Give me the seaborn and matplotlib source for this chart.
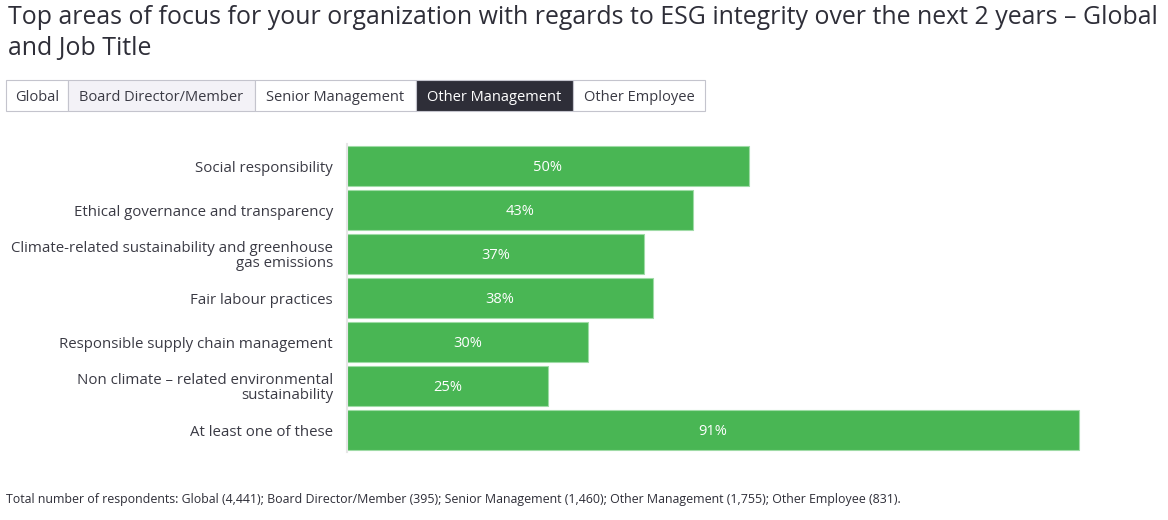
import pandas as pd
import matplotlib.pyplot as plt
import seaborn as sns
from matplotlib.patches import Rectangle

categories = [
    "Social responsibility",
    "Ethical governance and transparency",
    "Climate-related sustainability and greenhouse\ngas emissions",
    "Fair labour practices",
    "Responsible supply chain management",
    "Non climate \u2013 related environmental\nsustainability",
    "At least one of these",
]
values = [50, 43, 37, 38, 30, 25, 91]

tabs = ["Global", "Board Director/Member", "Senior Management", "Other Management", "Other Employee"]
tab_edges = [6, 68, 255, 416, 573, 705]  # pixel x edges of tab boxes
active_tab = "Other Management"
hover_tab = "Board Director/Member"

title = ("Top areas of focus for your organization with regards to ESG integrity over the next 2 years \u2013 Global\n"
         "and Job Title")
footnote = ("Total number of respondents: Global (4,441); Board Director/Member (395); Senior Management (1,460); "
            "Other Management (1,755); Other Employee (831).")

sns.set_style("white")
plt.rcParams['font.family'] = ['Open Sans', 'DejaVu Sans']

W, H = 1168, 520
fig = plt.figure(figsize=(W / 100, H / 100), dpi=100)

df = pd.DataFrame({"category": categories, "value": values})

ax = fig.add_axes([347 / W, 1 - 452 / H, (1151 - 347) / W, 308 / H])
sns.barplot(data=df, x="value", y="category", color="#49B654", saturation=1,
            width=0.89, edgecolor="#9fdba6", linewidth=0.8, ax=ax)
ax.set_xlim(0, 100)
ax.set_ylim(6.5, -0.5)
ax.set_xlabel("")
ax.set_ylabel("")
ax.set_xticks([])
for s in ["top", "right", "bottom"]:
    ax.spines[s].set_visible(False)
ax.spines["left"].set_color("#e6e6e6")
ax.spines["left"].set_linewidth(1.5)
ax.tick_params(axis="y", length=8, width=1, color="#e6e6e6", labelsize=10.8,
               labelcolor="#3a3a44", pad=2)
for lbl in ax.get_yticklabels():
    lbl.set_linespacing(1.0)

for i, v in enumerate(values):
    ax.text(v / 2, i + 0.03, f"{v}%", ha="center", va="center", color="white", fontsize=10.5)

fig.text(8 / W, 1 - 5 / H, title, ha="left", va="top", fontsize=17.9,
         color="#2e2e38", linespacing=1.3)

# tab bar
y0, y1 = 80, 111
for i, name in enumerate(tabs):
    xa, xb = tab_edges[i], tab_edges[i + 1]
    if name == active_tab:
        fc, tc = "#2e2e38", "white"
    elif name == hover_tab:
        fc, tc = "#f3f2f7", "#3a3a44"
    else:
        fc, tc = "white", "#3a3a44"
    fig.patches.append(Rectangle((xa / W, 1 - y1 / H), (xb - xa) / W, (y1 - y0) / H,
                                 transform=fig.transFigure, facecolor=fc,
                                 edgecolor="#c4c4cd", linewidth=0.8))
    fig.text((xa + xb) / 2 / W, 1 - ((y0 + y1) / 2 + 2) / H, name, ha="center", va="center",
             fontsize=10.5, color=tc)

fig.text(6 / W, 1 - 499 / H, footnote, ha="left", va="center", fontsize=8.9, color="#2e2e38")

plt.savefig("out.png", dpi=100)
plt.close()
